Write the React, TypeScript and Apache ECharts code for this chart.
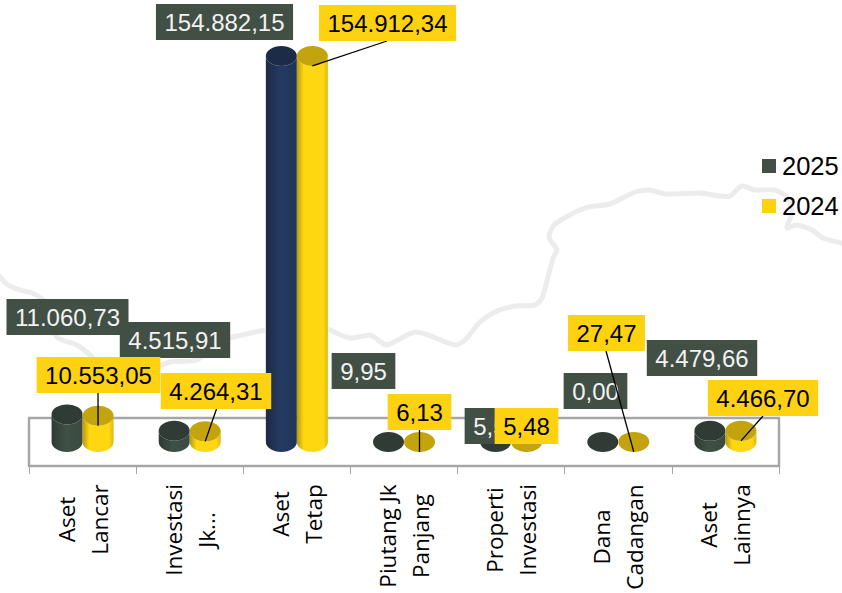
import React, { useEffect, useRef } from "react";
import * as echarts from "echarts";

const categories = ["Aset\nLancar", "Investasi\nJk...", "Aset\nTetap", "Piutang Jk\nPanjang", "Properti\nInvestasi", "Dana\nCadangan", "Aset\nLainnya"];
const values2025 = [11060.73, 4515.91, 154882.15, 9.95, 5.53, 0.0, 4479.66];
const values2024 = [10553.05, 4264.31, 154912.34, 6.13, 5.48, 27.47, 4466.7];

// Layout of the value callouts (box centres and leader starts, in page pixels).
const boxCentres2025 = [[67.5, 317], [175, 340], [224.5, 22], [363.5, 371], [496.5, 426], [595.5, 391], [702, 358]];
const boxCentres2024 = [[98.5, 375], [216, 391], [387.5, 23], [419.5, 412], [526.5, 426], [606.5, 333], [763, 398]];
const leaderStarts2024: (number[] | null)[] = [[98, 393], [216.5, 409], [387, 41], [419.5, 430], null, [606, 351], [763, 416]];

// Decorative map outline behind the chart.
const mapLeft = [[-4, 272], [8, 285], [20, 290], [32, 293], [45, 302], [50, 325], [58, 338], [77, 345], [90, 355], [105, 372], [130, 378], [170, 362], [197, 360], [215, 345], [230, 338], [265, 330]];
const mapRight = [[328, 329], [350, 338], [370, 335], [378, 340], [387, 345], [416, 332], [455, 345], [465, 340], [480, 322], [495, 312], [515, 306], [535, 305], [542, 298], [553, 258], [557, 250], [549, 237], [555, 224], [585, 208], [610, 204], [635, 192], [650, 190], [665, 194], [700, 193], [720, 196], [730, 196], [742, 186], [755, 190], [775, 190], [788, 198], [792, 212], [787, 228], [796, 225], [812, 230], [823, 238], [846, 244]];

const DARK = "#414f45";
const YELLOW = "#ffd211";
const LABEL_FONT = "'Liberation Sans', Arial, sans-serif";
const AXIS_FONT = "'Open Sans', sans-serif";
const AXIS_SIZE = 22.5;

const fmt = (v: number) => {
  const [i, d] = v.toFixed(2).split(".");
  return i.replace(/\B(?=(\d{3})+$)/g, ".") + "," + d;
};

const grad = (stops: [number, string][]) =>
  new echarts.graphic.LinearGradient(0, 0, 1, 0, stops.map(([offset, color]) => ({ offset, color })));

const PALETTES = {
  dark: { top: "#2f3b34", body: [[0, "#2e3a33"], [0.45, "#3f5046"], [1, "#3a4a40"]] as [number, string][] },
  navy: { top: "#1c2b47", body: [[0, "#1b2a46"], [0.45, "#243a60"], [1, "#20345a"]] as [number, string][] },
  yellow: { top: "#c4a40e", body: [[0, "#b5980e"], [0.22, "#ffd711"], [0.85, "#ffd711"], [1, "#dcb90f"]] as [number, string][] },
};

const R = 15.5;
const RY = 10;

const cylinder = (side: number, paletteOf: (i: number) => keyof typeof PALETTES) => (params: any, api: any) => {
  const i = api.value(0);
  const [bx, y0] = api.coord([i, 0]);
  const y1 = api.coord([i, api.value(1)])[1];
  const x = bx + side * R;
  const p = PALETTES[paletteOf(params.dataIndex)];
  return {
    type: "group",
    children: [
      {
        type: "path",
        shape: { pathData: `M${x - R} ${y1}A${R} ${RY} 0 0 0 ${x + R} ${y1}L${x + R} ${y0}A${R} ${RY} 0 0 1 ${x - R} ${y0}Z` },
        style: { fill: grad(p.body) },
      },
      {
        type: "path",
        shape: { pathData: `M${x - R} ${y1}A${R} ${RY} 0 0 1 ${x + R} ${y1}A${R} ${RY} 0 0 1 ${x - R} ${y1}Z` },
        style: { fill: p.top },
      },
    ],
  };
};

const callouts = (side: number, centres: number[][], leaders: (number[] | null)[] | null, bg: string, fg: string) => (params: any, api: any) => {
  const i = api.value(0);
  const v = api.value(1);
  const [bx] = api.coord([i, 0]);
  const yTop = api.coord([i, v])[1];
  const [cx, cy] = centres[params.dataIndex];
  const start = leaders ? leaders[params.dataIndex] : null;
  const children: any[] = [];
  if (start) {
    children.push({
      type: "line",
      shape: { x1: start[0], y1: start[1], x2: bx + side * R, y2: yTop + RY },
      style: { stroke: "#000", lineWidth: 1.3 },
    });
  }
  children.push({
    type: "text",
    x: cx,
    y: cy,
    style: {
      text: fmt(v),
      fill: fg,
      fontSize: 24,
      fontFamily: LABEL_FONT,
      align: "center",
      verticalAlign: "middle",
      lineHeight: 28,
      backgroundColor: bg,
      padding: [4, 8.5],
    },
  });
  return { type: "group", children };
};

const measure = (s: string) => {
  const ctx = document.createElement("canvas").getContext("2d")!;
  ctx.font = `${AXIS_SIZE}px ${AXIS_FONT}`;
  return Math.ceil(ctx.measureText(s).width);
};

export default function App() {
  const ref = useRef<HTMLDivElement>(null);
  useEffect(() => {
    const chart = echarts.init(ref.current!, null, { renderer: "svg" });
    const rich: Record<string, any> = {};
    categories.forEach((c, i) => {
      rich["c" + i] = {
        width: Math.max(...c.split("\n").map(measure)),
        align: "center",
        fontFamily: AXIS_FONT,
        fontSize: AXIS_SIZE,
        lineHeight: 33,
        color: "#000",
      };
    });
    const pairs = (vals: number[]) => vals.map((v, i) => [i, v]);
    const mapLine = (points: number[][]) => ({
      type: "polyline",
      z: -2,
      silent: true,
      shape: { points, smooth: 0.25 },
      style: { stroke: "#ececec", lineWidth: 5, fill: "none", lineJoin: "round" },
    });
    chart.setOption({
      animation: false,
      backgroundColor: "#ffffff",
      legend: {
        orient: "vertical",
        left: 762,
        top: 153,
        padding: 0,
        itemWidth: 14,
        itemHeight: 14,
        itemGap: 14,
        icon: "rect",
        selectedMode: false,
        data: ["2025", "2024"],
        textStyle: { fontFamily: LABEL_FONT, fontSize: 25.5, lineHeight: 26, color: "#000", padding: [0, 0, 0, 1] },
      },
      grid: { left: 29, width: 750, top: 43.3, height: 398.7, outerBoundsMode: "none" },
      graphic: [
        mapLine(mapLeft),
        mapLine(mapRight),
        {
          type: "rect",
          z: -1,
          silent: true,
          shape: { x: 29, y: 418, width: 750, height: 48 },
          style: { fill: "none", stroke: "#a6a6a6", lineWidth: 2.4 },
        },
      ],
      xAxis: {
        type: "category",
        data: categories,
        offset: 24,
        axisLine: { show: true, onZero: false, lineStyle: { color: "#a6a6a6", width: 1 } },
        axisTick: { show: true, length: 8, lineStyle: { color: "#a6a6a6", width: 1 } },
        axisLabel: {
          interval: 0,
          rotate: 90,
          margin: 18,
          hideOverlap: false,
          formatter: (v: string, i: number) => v.split("\n").map((l) => `{c${i}|${l}}`).join("\n"),
          rich,
        },
      },
      yAxis: { type: "value", min: 0, max: 160000, show: false },
      series: [
        {
          type: "custom",
          name: "2025",
          itemStyle: { color: DARK },
          renderItem: cylinder(-1, (i) => (i === 2 ? "navy" : "dark")),
          encode: { x: 0, y: 1 },
          data: pairs(values2025),
          z: 2,
        },
        {
          type: "custom",
          name: "2024",
          itemStyle: { color: YELLOW },
          renderItem: cylinder(1, () => "yellow"),
          encode: { x: 0, y: 1 },
          data: pairs(values2024),
          z: 2,
        },
        {
          type: "custom",
          name: "label2025",
          silent: true,
          renderItem: callouts(-1, boxCentres2025, null, DARK, "#f2f2f2"),
          encode: { x: 0, y: 1 },
          data: pairs(values2025),
          z: 3,
        },
        {
          type: "custom",
          name: "label2024",
          silent: true,
          renderItem: callouts(1, boxCentres2024, leaderStarts2024, YELLOW, "#000"),
          encode: { x: 0, y: 1 },
          data: pairs(values2024),
          z: 4,
        },
      ],
    });
    return () => chart.dispose();
  }, []);
  return <div ref={ref} style={{ position: "absolute", left: 0, top: 0, width: 842, height: 593 }} />;
}
